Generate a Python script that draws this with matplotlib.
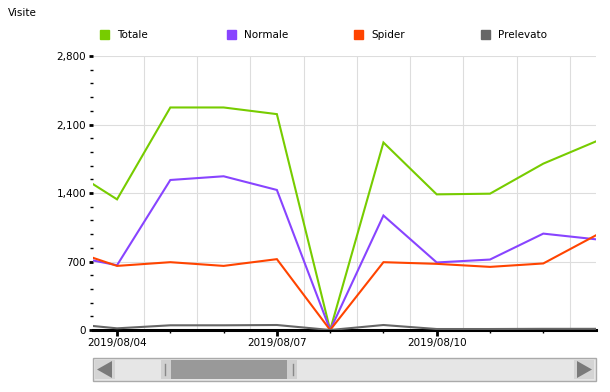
import numpy as np
import matplotlib
matplotlib.use("Agg")
import matplotlib.pyplot as plt
import matplotlib.dates as mdates
from matplotlib.patches import Rectangle, Polygon
from matplotlib.ticker import FuncFormatter, MultipleLocator
from datetime import datetime, timedelta

# data (daily visits)
dates = [datetime(2019, 8, d) for d in range(3, 14)]
totale = [1680, 1335, 2274, 2274, 2206, 0, 1916, 1386, 1393, 1700, 1930]
normale = [770, 662, 1533, 1571, 1431, 0, 1170, 690, 720, 985, 926]
spider = [838, 655, 693, 655, 724, 0, 693, 676, 645, 680, 971]
prelevato = [70, 17, 48, 48, 51, 0, 51, 10, 10, 12, 12]

series = [("Totale", totale, "#77cc00"),
          ("Normale", normale, "#8844ff"),
          ("Spider", spider, "#ff4400"),
          ("Prelevato", prelevato, "#666666")]

W, H = 610, 392
fig = plt.figure(figsize=(W / 100, H / 100), dpi=100)

# plot area in pixels
left, right, top, bottom = 93, 596, 56, 330
ax = fig.add_axes([left / W, 1 - bottom / H, (right - left) / W, (bottom - top) / H])

for name, vals, col in series:
    ax.plot(dates, vals, color=col, lw=1.5, solid_joinstyle="miter", zorder=3, clip_on=True)

ax.set_xlim(datetime(2019, 8, 3, 13, 10), datetime(2019, 8, 12, 23, 45))
ax.set_ylim(0, 2800)

# y axis
ax.yaxis.set_major_locator(MultipleLocator(700))
ax.yaxis.set_minor_locator(MultipleLocator(140))
ax.yaxis.set_major_formatter(FuncFormatter(lambda v, p: f"{int(v):,}"))
ax.grid(axis="y", which="major", color="#dddddd", lw=0.8, zorder=0)

# x axis
ax.xaxis.set_major_locator(mdates.DayLocator(bymonthday=range(1, 32, 3)))
ax.xaxis.set_minor_locator(mdates.DayLocator())
ax.xaxis.set_major_formatter(mdates.DateFormatter("%Y/%m/%d"))
for d in dates:
    noon = d + timedelta(hours=12)
    ax.axvline(noon, color="#dddddd", lw=0.8, zorder=0)

ax.tick_params(axis="both", which="major", labelsize=7.5, colors="black", width=2, length=3)
ax.tick_params(axis="y", which="minor", width=1, length=2)
ax.tick_params(axis="x", which="minor", width=1, length=2.5)
ax.tick_params(axis="y", which="major", pad=2)
ax.tick_params(axis="x", which="major", length=4, pad=2)

for s in ["top", "right", "left"]:
    ax.spines[s].set_visible(False)
ax.spines["bottom"].set_linewidth(2.2)
ax.set_facecolor("white")

# y title
fig.text(8 / W, 1 - 13 / H, "Visite", fontsize=7.5, va="center", ha="left")

# legend row
for i, (name, vals, col) in enumerate(series):
    x0 = 100 + 127 * i
    fig.patches.append(Rectangle((x0 / W, 1 - 39 / H), 9 / W, 9 / H, color=col,
                                 transform=fig.transFigure, figure=fig))
    fig.text((x0 + 17) / W, 1 - 34.5 / H, name, fontsize=7.5, va="center", ha="left")

# scrollbar under the chart
sb = fig.add_axes([0, 0, 1, 1], zorder=-1)
sb.set_xlim(0, W)
sb.set_ylim(H, 0)
sb.axis("off")
sb.add_patch(Rectangle((93, 358), 503, 23, facecolor="#e6e6e6", edgecolor="#aaaaaa", lw=1))
sb.add_patch(Rectangle((95, 360), 20, 19, facecolor="#d4d4d4", edgecolor="none"))
sb.add_patch(Rectangle((574, 360), 20, 19, facecolor="#d4d4d4", edgecolor="none"))
sb.add_patch(Polygon([[97, 369.5], [112, 361], [112, 378]], closed=True, facecolor="#7a7a7a"))
sb.add_patch(Polygon([[592, 369.5], [577, 361], [577, 378]], closed=True, facecolor="#7a7a7a"))
sb.add_patch(Rectangle((161, 360), 10, 19, facecolor="#d0d0d0", edgecolor="none"))
sb.add_patch(Rectangle((287, 360), 10, 19, facecolor="#d0d0d0", edgecolor="none"))
sb.add_patch(Rectangle((171, 360), 116, 19, facecolor="#999999", edgecolor="none"))
sb.plot([165, 165], [364, 375], color="#888888", lw=1)
sb.plot([293, 293], [364, 375], color="#888888", lw=1)

fig.savefig("out.png", dpi=100)
